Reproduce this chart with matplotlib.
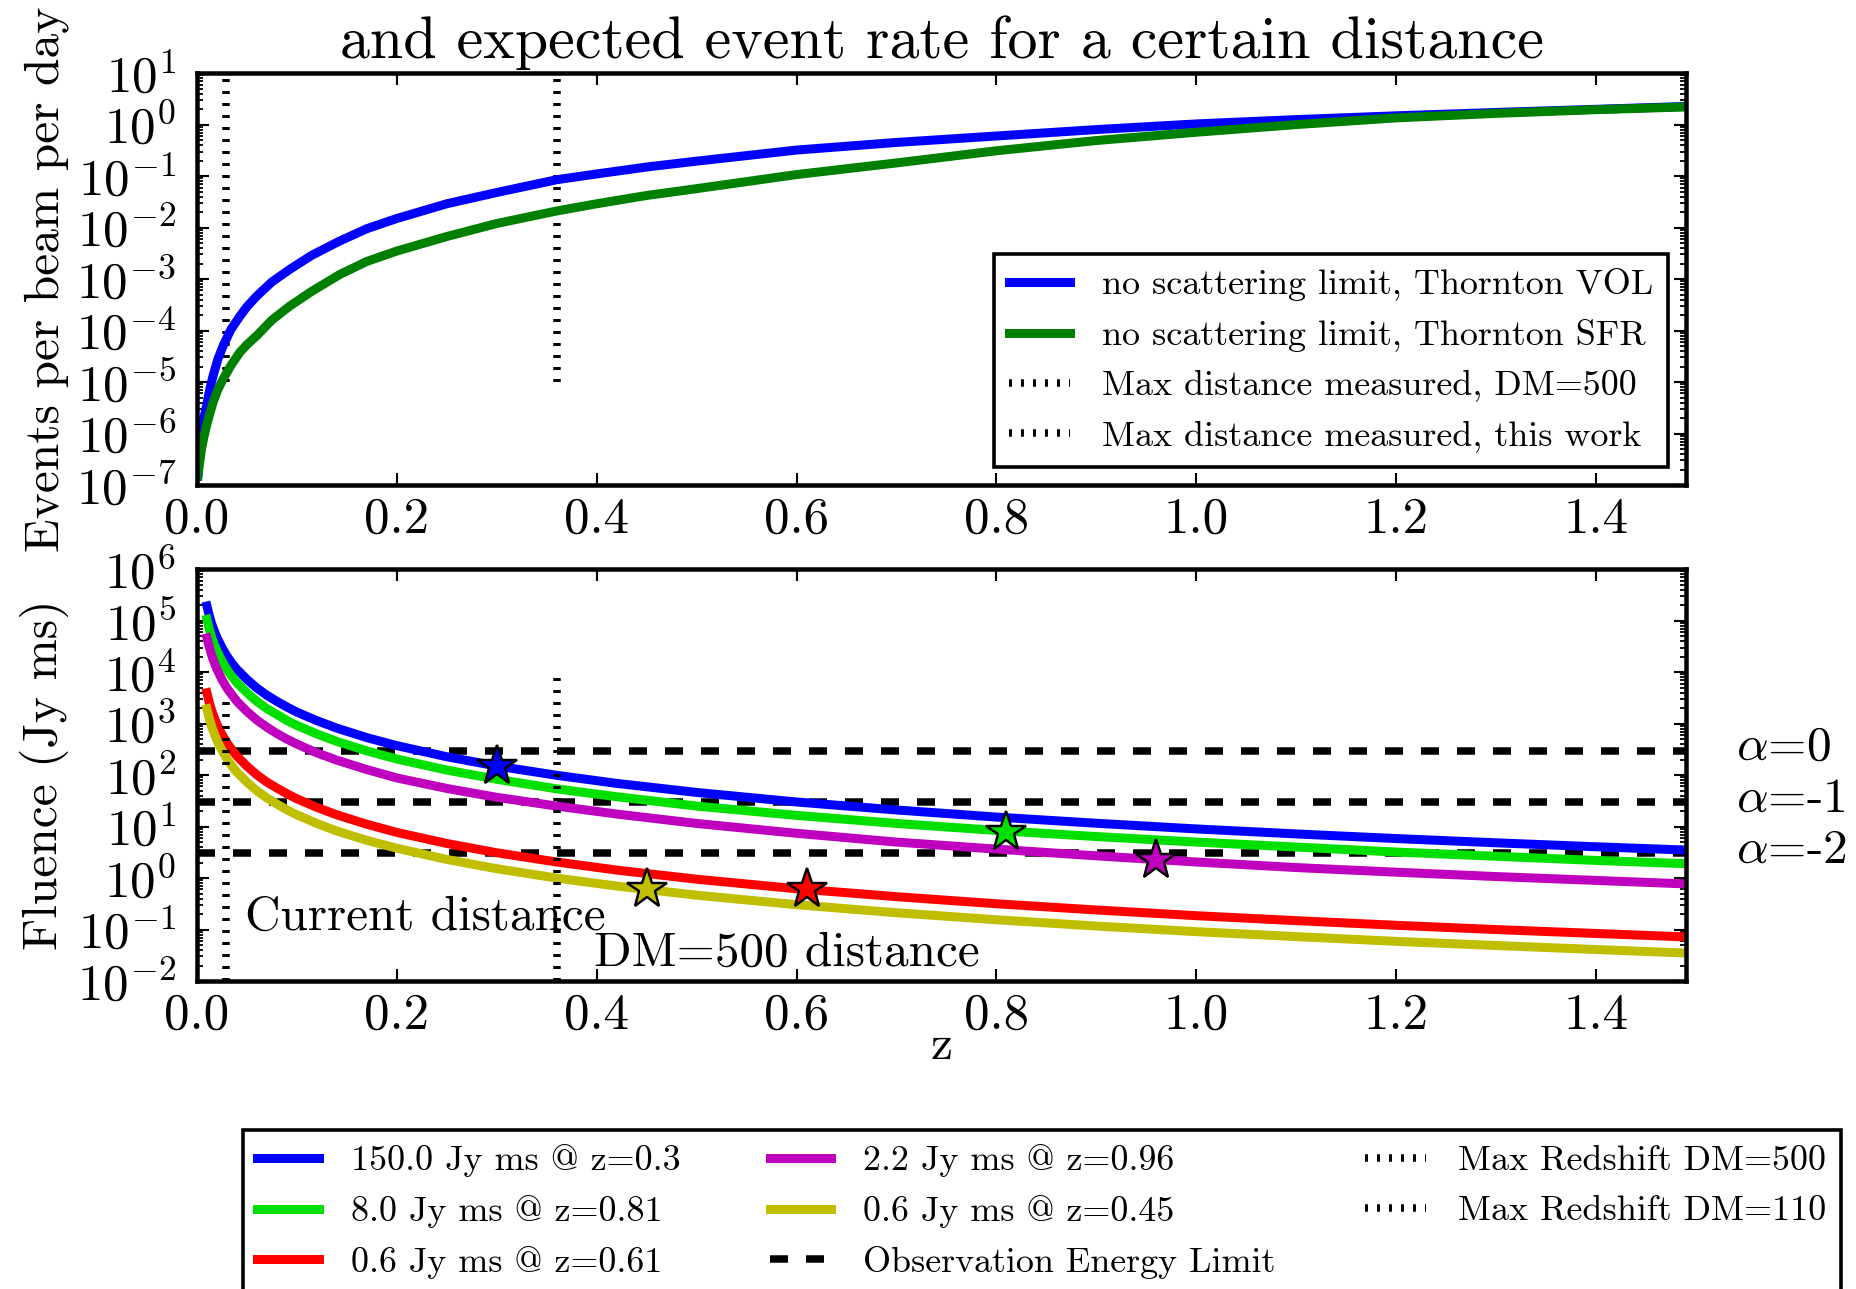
import numpy as np
import matplotlib
matplotlib.use('Agg')
import matplotlib.pyplot as plt
from matplotlib.ticker import LogLocator, MultipleLocator

plt.rcParams['font.family'] = 'serif'
plt.rcParams['font.serif'] = ['cmr10']
plt.rcParams['mathtext.fontset'] = 'cm'
plt.rcParams['axes.unicode_minus'] = False
plt.rcParams['axes.formatter.use_mathtext'] = True
plt.rcParams['lines.scale_dashes'] = False  # dash lengths in points, like old mpl

# ---- top panel: events per beam per day vs z ----
z_rate = [0.001, 0.0023, 0.0035, 0.0047, 0.007, 0.0097, 0.013, 0.0163, 0.021, 0.0263,
          0.034, 0.043, 0.05, 0.06, 0.075, 0.093, 0.115, 0.143, 0.17, 0.2, 0.25, 0.3,
          0.36, 0.4, 0.45, 0.5, 0.6, 0.7, 0.8, 0.9, 1.0, 1.1, 1.2, 1.3, 1.4, 1.49]
rate_vol = [1.5e-7, 2.9e-7, 5.5e-7, 9.3e-7, 2.0e-6, 3.5e-6, 7.5e-6, 1.35e-5, 2.8e-5, 5.1e-5,
            1.05e-4, 1.9e-4, 2.9e-4, 4.7e-4, 8.8e-4, 1.55e-3, 2.9e-3, 5.5e-3, 9.5e-3, 0.015,
            0.029, 0.048, 0.085, 0.11, 0.15, 0.195, 0.32, 0.45, 0.6, 0.8, 1.03, 1.25, 1.48,
            1.72, 1.98, 2.25]
rate_sfr = [1.5e-7, 2.4e-7, 3.5e-7, 5.1e-7, 8.6e-7, 1.45e-6, 2.5e-6, 4.1e-6, 7.2e-6, 1.15e-5,
            2.1e-5, 3.8e-5, 5.3e-5, 8.0e-5, 1.6e-4, 3.0e-4, 5.8e-4, 1.23e-3, 2.2e-3, 3.5e-3,
            6.7e-3, 0.012, 0.021, 0.029, 0.042, 0.057, 0.107, 0.18, 0.31, 0.49, 0.71, 1.0, 1.35,
            1.65, 1.95, 2.2]

# ---- bottom panel: fluence needed vs z for each burst ----
z_flu = [0.01, 0.0125, 0.015, 0.0175, 0.02, 0.025, 0.03, 0.035, 0.04, 0.05, 0.06, 0.07,
         0.08, 0.09, 0.1, 0.12, 0.14, 0.17, 0.2, 0.25, 0.3, 0.36, 0.42, 0.5, 0.6, 0.7,
         0.8, 0.9, 1.0, 1.1, 1.2, 1.3, 1.4, 1.49]
flu_150 = [1.92e5, 1.22e5, 8.4e4, 6.2e4, 4.7e4, 3.0e4, 2.05e4, 1.49e4, 1.13e4, 7.2e3, 4.9e3,
           3.55e3, 2.7e3, 2.1e3, 1.67e3, 1.14e3, 815, 534, 373, 227, 150, 99, 69, 46, 30,
           21, 15.3, 11.6, 9.0, 7.2, 5.85, 4.84, 4.05, 3.5]
flu_8 = [1.06e5, 6.7e4, 4.6e4, 3.4e4, 2.6e4, 1.65e4, 1.13e4, 8.2e3, 6.2e3, 4.0e3, 2.7e3,
         1.95e3, 1.5e3, 1.15e3, 920, 630, 450, 295, 205, 125, 83, 54, 38, 25, 16.5,
         11.5, 8.4, 6.4, 5.0, 4.0, 3.2, 2.65, 2.2, 1.9]
flu_061 = [3.97e3, 2.5e3, 1.74e3, 1.28e3, 970, 620, 425, 310, 234, 149, 101, 73,
           56, 43.5, 34.6, 23.6, 16.9, 11.1, 7.7, 4.7, 3.1, 2.05, 1.43, 0.95, 0.62,
           0.435, 0.317, 0.24, 0.186, 0.149, 0.121, 0.1, 0.084, 0.072]
flu_22 = [4.6e4, 3.0e4, 2.05e4, 1.5e4, 1.14e4, 7.2e3, 4.9e3, 3.6e3, 2.7e3, 1.72e3, 1.17e3,
          850, 640, 500, 400, 270, 195, 128, 88, 55, 37, 25, 17.5, 11.5, 7.4, 5.0,
          3.65, 2.7, 2.05, 1.6, 1.3, 1.07, 0.9, 0.77]
flu_045 = [1.94e3, 1.23e3, 850, 625, 475, 303, 207, 150, 114, 73, 49.5, 36,
           27.3, 21.2, 16.9, 11.5, 8.2, 5.4, 3.8, 2.3, 1.52, 1.0, 0.7, 0.465, 0.304,
           0.212, 0.155, 0.117, 0.091, 0.073, 0.059, 0.049, 0.041, 0.035]

burst_z = [0.3, 0.81, 0.61, 0.96, 0.45]
burst_flu = [150.0, 8.0, 0.6, 2.2, 0.6]
burst_labels = ['150.0 Jy ms @ z=0.3', '8.0 Jy ms @ z=0.81', '0.6 Jy ms @ z=0.61',
                '2.2 Jy ms @ z=0.96', '0.6 Jy ms @ z=0.45']
burst_colors = ['b', '#00e000', 'r', 'm', 'y']

limit_levels = [300, 30, 3]
limit_names = [r'$\alpha$=0', r'$\alpha$=-1', r'$\alpha$=-2']

z_dm500 = 0.36
z_dm110 = 0.029

DPI = 216
fig = plt.figure(figsize=(1856 / DPI, 1289 / DPI), dpi=DPI)
ax1 = fig.add_axes([0.1061, 0.6237, 0.8023, 0.3196])
ax2 = fig.add_axes([0.1061, 0.2389, 0.8023, 0.3196])

dot = (0, (1, 3))
dash = (0, (6, 6))

# top
ax1.vlines(z_dm500, 1e-5, 10, colors='k', linestyles=dot, lw=2.5,
           label='Max distance measured, DM=500')
ax1.vlines(z_dm110, 1e-5, 10, colors='k', linestyles=dot, lw=2.5,
           label='Max distance measured, this work')
ax1.plot(z_rate, rate_vol, color='b', lw=3, label='no scattering limit, Thornton VOL')
ax1.plot(z_rate, rate_sfr, color='g', lw=3, label='no scattering limit, Thornton SFR')
ax1.set_yscale('log')
ax1.set_ylim(1e-7, 10)
ax1.set_ylabel('Events per beam per day', fontsize=16.5)
ax1.set_title('and expected event rate for a certain distance', fontsize=20, pad=5)

h, l = ax1.get_legend_handles_labels()
order = [2, 3, 0, 1]
leg1 = ax1.legend([h[i] for i in order], [l[i] for i in order], loc='lower right',
                  fontsize=12, fancybox=False, edgecolor='k', framealpha=1,
                  handlelength=1.7, handletextpad=0.9, labelspacing=0.5, borderaxespad=0.5)
leg1.get_frame().set_linewidth(1.2)

# bottom
for lev in limit_levels:
    ax2.hlines(lev, 0, 1.49, colors='k', linestyles=dash, lw=2.5, zorder=1)
ax2.plot([], [], color='k', ls=dash, lw=2.5, label='Observation Energy Limit')

for ys, c, lab in zip([flu_150, flu_8, flu_061, flu_22, flu_045], burst_colors, burst_labels):
    ax2.plot(z_flu, ys, color=c, lw=3, label=lab, zorder=2)
for zb, fb, c in zip(burst_z, burst_flu, burst_colors):
    ax2.plot(zb, fb, marker='*', ms=14, color=c, mec='k', mew=0.8, zorder=5)

ax2.vlines(z_dm500, 1e-2, 1e4, colors='k', linestyles=dot, lw=2.5, zorder=3,
           label='Max Redshift DM=500')
ax2.vlines(z_dm110, 1e-2, 3e3, colors='k', linestyles=dot, lw=2.5, zorder=3,
           label='Max Redshift DM=110')

ax2.text(0.048, 0.1, 'Current distance', fontsize=16.4)
ax2.text(0.397, 0.02, 'DM=500 distance', fontsize=16.4)
for lev, name in zip(limit_levels, limit_names):
    ax2.text(1.54, lev * 1.12, name, fontsize=16.5, va='center', clip_on=False)

ax2.set_yscale('log')
ax2.set_ylim(1e-2, 1e6)
ax2.set_ylabel('Fluence (Jy ms)', fontsize=16.5)
ax2.set_xlabel('z', fontsize=16.5)

h, l = ax2.get_legend_handles_labels()
# column order: 150, 8.0, 0.6@0.61 | 2.2, 0.6@0.45, limit | DM500, DM110
order = [1, 2, 3, 4, 5, 0, 6, 7]
leg2 = ax2.legend([h[i] for i in order], [l[i] for i in order], ncol=3,
                  loc='upper left', mode='expand', bbox_to_anchor=(0.1309, 0.0, 0.8610, 0.1233),
                  bbox_transform=fig.transFigure, borderaxespad=0,
                  fontsize=12, fancybox=False, edgecolor='k', framealpha=1,
                  handlelength=1.7, handletextpad=0.9, labelspacing=0.49)
leg2.get_frame().set_linewidth(1.2)

for ax in (ax1, ax2):
    ax.set_xlim(0, 1.49)
    ax.xaxis.set_major_locator(MultipleLocator(0.2))
    ax.xaxis.set_major_formatter(matplotlib.ticker.FormatStrFormatter('%.1f'))
    ax.yaxis.set_major_locator(LogLocator(base=10, numticks=20))
    ax.yaxis.set_minor_locator(LogLocator(base=10, subs=np.arange(2, 10), numticks=20))
    ax.yaxis.set_minor_formatter(matplotlib.ticker.NullFormatter())
    ax.tick_params(which='both', direction='in', top=True, right=True, labelsize=17)
    ax.tick_params(which='major', length=4, width=0.7)
    ax.tick_params(which='minor', length=2, width=0.6)
    ax.tick_params(axis='x', pad=4)
    ax.tick_params(axis='y', pad=7)
    for sp in ax.spines.values():
        sp.set_linewidth(1.5)
    ax.yaxis.set_label_coords(-0.086, 0.5)
ax2.xaxis.set_label_coords(0.5, -0.107)

fig.savefig('out.png', dpi=DPI)
